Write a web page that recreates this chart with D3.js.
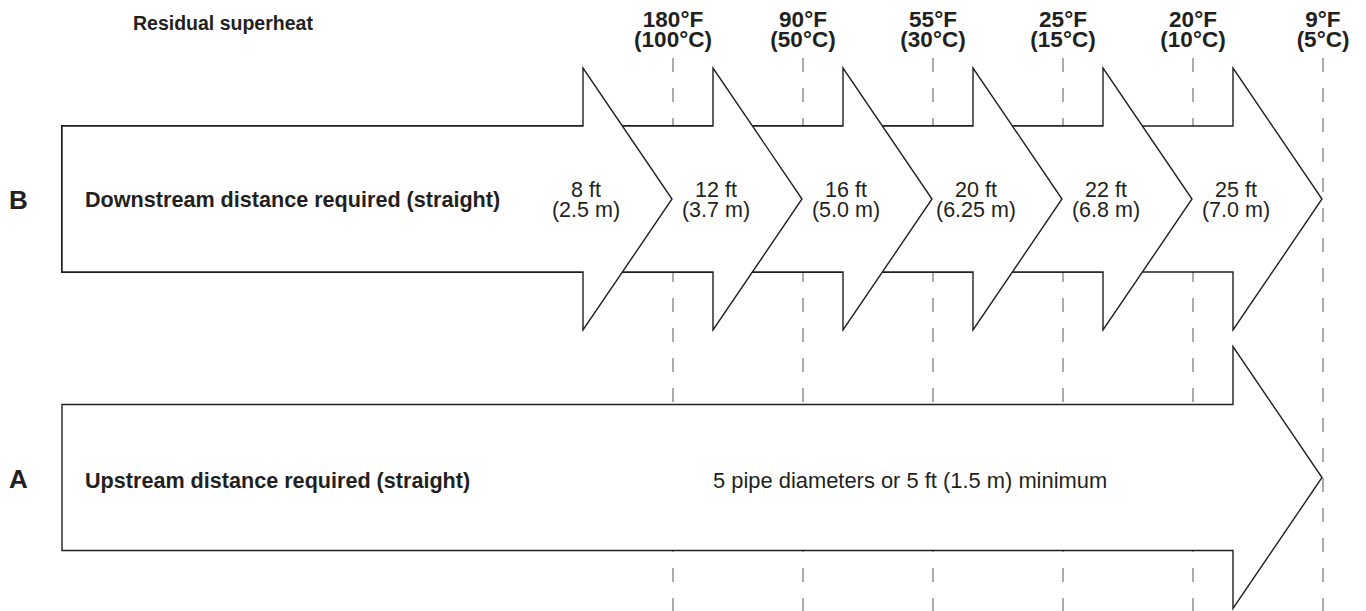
<!DOCTYPE html>
<html lang="en">
    <head>
        <meta charset="utf-8">
        <title>Residual superheat distances</title>
        <style type="text/css">
            body { margin: 0; background: #fff; }
            text { font-family: "Liberation Sans", Arial, sans-serif; fill: #231f20; }
        </style>
    </head>
    <body>

<script src="https://d3js.org/d3.v7.min.js"></script>

<script>

    var w = 1366;
    var h = 611;

    // residual superheat marks (top labels)
    var tempF = ["180°F", "90°F", "55°F", "25°F", "20°F", "9°F"];
    var tempC = ["(100°C)", "(50°C)", "(30°C)", "(15°C)", "(10°C)", "(5°C)"];

    // downstream distance for each superheat
    var distFt = ["8 ft", "12 ft", "16 ft", "20 ft", "22 ft", "25 ft"];
    var distM = ["(2.5 m)", "(3.7 m)", "(5.0 m)", "(6.25 m)", "(6.8 m)", "(7.0 m)"];

    var rows = ["B", "A"];
    var rowTitles = ["Downstream distance required (straight)", "Upstream distance required (straight)"];
    var upstreamNote = "5 pipe diameters or 5 ft (1.5 m) minimum";

    var x0 = 62;          // left end of the arrows
    var headLen = 89;
    var shaftHalf = 73;
    var headHalf = 131;

    var svg = d3.select("body")
            .append("svg")
            .attr("width", w)
            .attr("height", h);

    var x = d3.scalePoint().domain(tempF).range([673, 1323]);
    var y = d3.scalePoint().domain(rows).range([199, 477.5]);

    // dashed guide lines
    svg.selectAll("line.guide")
        .data(tempF)
        .enter()
        .append("line")
        .attr("class", "guide")
        .attr("x1", function(d){ return x(d); })
        .attr("x2", function(d){ return x(d); })
        .attr("y1", 58)
        .attr("y2", h)
        .attr("stroke", "#ababab")
        .attr("stroke-width", 2)
        .attr("stroke-dasharray", "14,16");

    function arrow(tip, cy){
        var b = tip - headLen;
        return [[x0, cy - shaftHalf], [b, cy - shaftHalf], [b, cy - headHalf], [tip, cy],
                [b, cy + headHalf], [b, cy + shaftHalf], [x0, cy + shaftHalf]];
    }

    //arrow B: draw biggest first so the shorter ones sit on top
    var bData = d3.range(tempF.length).reverse();
    svg.selectAll("polygon.b")
        .data(bData)
        .enter()
        .append("polygon")
        .attr("class", "b")
        .attr("points", function(i){ return arrow(x(tempF[i]) - 1, y("B")).join(" "); })
        .attr("fill", "#fff")
        .attr("stroke", "#231f20")
        .attr("stroke-width", 1.4);

    //arrow A
    svg.append("polygon")
        .attr("points", arrow(x(tempF[tempF.length - 1]) - 1, y("A")).join(" "))
        .attr("fill", "#fff")
        .attr("stroke", "#231f20")
        .attr("stroke-width", 1.4);

    // top labels
    svg.append("text")
        .attr("x", 133)
        .attr("y", 30)
        .style("font-weight", "bold")
        .style("font-size", "19.5px")
        .text("Residual superheat");

    var tl = svg.selectAll("text.temp")
        .data(tempF)
        .enter()
        .append("text")
        .attr("class", "temp")
        .attr("text-anchor", "middle")
        .style("font-weight", "bold")
        .style("font-size", "22.5px");
    tl.append("tspan")
        .attr("x", function(d){ return x(d); })
        .attr("y", 27)
        .text(function(d){ return d; });
    tl.append("tspan")
        .attr("x", function(d){ return x(d); })
        .attr("y", 47)
        .text(function(d, i){ return tempC[i]; });

    // row letters and titles
    svg.selectAll("text.row")
        .data(rows)
        .enter()
        .append("text")
        .attr("class", "row")
        .attr("x", 9)
        .attr("y", function(d){ return y(d) + 10; })
        .style("font-weight", "bold")
        .style("font-size", "26px")
        .text(function(d){ return d; });

    svg.selectAll("text.title")
        .data(rows)
        .enter()
        .append("text")
        .attr("class", "title")
        .attr("x", 85)
        .attr("y", function(d, i){ return y(d) + (i === 0 ? 8 : 10); })
        .style("font-weight", "bold")
        .style("font-size", "21.6px")
        .text(function(d, i){ return rowTitles[i]; });

    // distance labels inside the chevrons
    var dl = svg.selectAll("text.dist")
        .data(distFt)
        .enter()
        .append("text")
        .attr("class", "dist")
        .attr("text-anchor", "middle")
        .style("font-size", "21.5px");
    dl.append("tspan")
        .attr("x", function(d, i){ return x(tempF[i]) - headLen + 2; })
        .attr("y", y("B") - 2)
        .text(function(d){ return d; });
    dl.append("tspan")
        .attr("x", function(d, i){ return x(tempF[i]) - headLen + 2; })
        .attr("y", y("B") + 18)
        .text(function(d, i){ return distM[i]; });

    svg.append("text")
        .attr("x", 713)
        .attr("y", y("A") + 10)
        .style("font-size", "21.9px")
        .text(upstreamNote);

</script>

    </body>
</html>
